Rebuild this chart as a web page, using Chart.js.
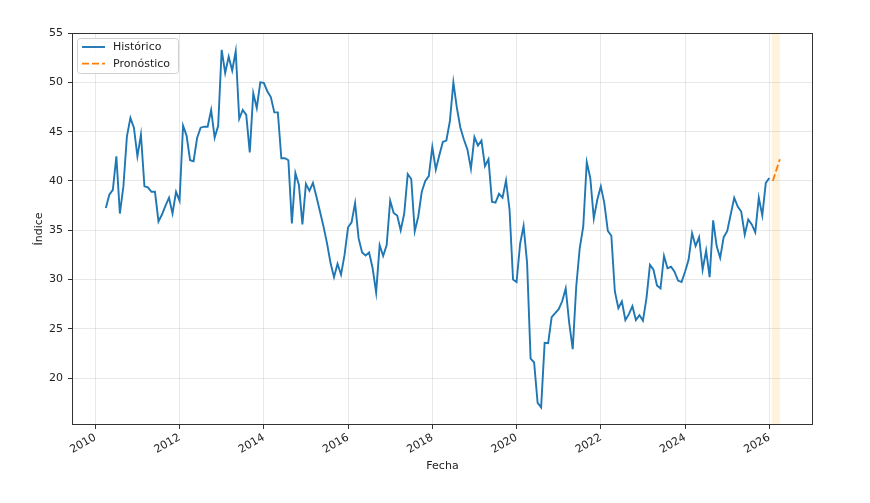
<!DOCTYPE html>
<html>
<head>
<meta charset="utf-8">
<script src="https://cdn.jsdelivr.net/npm/chart.js@4.4.0/dist/chart.umd.min.js"></script>
<style>
  body { margin: 0; background: #ffffff; }
  #wrap { width: 870px; height: 503px; }
</style>
</head>
<body>
<div id="wrap"><canvas id="indice-chart" width="870" height="503"></canvas></div>
<script>
// serie mensual, empieza en abril de 2010
const inicioAnio = 2010;
const inicioMes = 4;
const historico = [
    37.25, 38.6, 39.1, 42.5, 36.7, 39.45, 44.5, 46.4, 45.4,                 // 2010
    42.5, 44.7, 39.45, 39.35, 38.9, 38.9, 35.9, 36.6, 37.5, 38.3, 36.7, 38.9, // 2011
    38.0, 45.6, 44.6, 42.1, 42.0, 44.35, 45.4, 45.5, 45.5, 47.2, 44.4, 45.6, // 2012
    53.3, 50.95, 52.6, 51.2, 53.15, 46.3, 47.2, 46.7, 42.9, 48.9, 47.4, 50.0, // 2013
    49.95, 49.1, 48.5, 46.95, 46.95, 42.3, 42.3, 42.1, 35.7, 40.8, 39.6, 35.6, // 2014
    39.7, 39.0, 39.8, 38.4, 36.9, 35.4, 33.7, 31.7, 30.25, 31.6, 30.5, 32.5, // 2015
    35.3, 35.8, 37.75, 34.2, 32.75, 32.45, 32.75, 31.15, 28.7, 33.5, 32.4, 33.5, // 2016
    38.0, 36.75, 36.5, 35.0, 36.7, 40.7, 40.2, 34.9, 36.4, 38.9, 40.0, 40.5, // 2017
    43.45, 41.15, 42.6, 43.95, 44.1, 46.05, 50.0, 47.4, 45.4, 44.2, 43.2, 41.25, // 2018
    44.45, 43.6, 44.1, 41.5, 42.2, 37.9, 37.8, 38.7, 38.3, 40.05, 37.1, 30.0, // 2019
    29.75, 33.6, 35.45, 31.7, 22.0, 21.6, 17.5, 17.05, 23.6, 23.55, 26.2, 26.6, // 2020
    27.0, 27.8, 29.1, 25.6, 22.95, 29.3, 33.2, 35.4, 41.9, 40.3, 36.2, 38.1, // 2021
    39.45, 37.75, 34.95, 34.45, 28.8, 27.1, 27.8, 25.9, 26.5, 27.3, 25.9, 26.4, // 2022
    25.85, 28.1, 31.5, 31.0, 29.4, 29.1, 32.4, 31.15, 31.3, 30.8, 29.9, 29.75, // 2023
    30.8, 32.0, 34.7, 33.4, 34.3, 31.0, 32.95, 30.25, 36.0, 33.4, 32.2, 34.3, // 2024
    34.9, 36.6, 38.3, 37.4, 36.9, 34.55, 36.1, 35.6, 34.8, 38.3, 36.5, 39.8, // 2025
    40.3                                                                     // 2026
];
const pronostico = [40.0, 41.1, 42.2]; // feb - abr 2026

const ticksX = [2010, 2012, 2014, 2016, 2018, 2020, 2022, 2024, 2026];
const ticksY = [20, 25, 30, 35, 40, 45, 50, 55];

const fechaDe = (i) => inicioAnio + (inicioMes - 1 + i) / 12;
const fechasHist = historico.map((_, i) => fechaDe(i));
const fechasPron = pronostico.map((_, i) => fechaDe(historico.length + i));

Chart.defaults.font.family = "'DejaVu Sans', sans-serif";
Chart.defaults.font.size = 11;
Chart.defaults.color = '#222';

const extras = {
    id: 'extras',
    beforeDatasetsDraw(chart) {
        const {ctx, chartArea, scales} = chart;
        const x1 = scales.x.getPixelForValue(fechasPron[0]);
        const x2 = scales.x.getPixelForValue(fechasPron[fechasPron.length - 1]);
        ctx.save();
        ctx.fillStyle = 'rgba(255, 165, 0, 0.13)';
        ctx.fillRect(x1 - 1, chartArea.top, x2 - x1 + 1, chartArea.bottom - chartArea.top);
        ctx.restore();
    },
    afterDatasetsDraw(chart) {
        const {ctx, chartArea} = chart;
        ctx.save();
        // marco completo
        ctx.strokeStyle = '#333';
        ctx.lineWidth = 1;
        ctx.strokeRect(chartArea.left + 0.5, chartArea.top + 0.5,
            chartArea.right - chartArea.left - 1, chartArea.bottom - chartArea.top - 1);

        // leyenda
        const sets = chart.data.datasets;
        ctx.font = "11px 'DejaVu Sans'";
        let maxW = 0;
        sets.forEach(d => { maxW = Math.max(maxW, ctx.measureText(d.label).width); });
        const x0 = chartArea.left + 5, y0 = chartArea.top + 5;
        const w = 36 + maxW + 8, h = 35;
        ctx.beginPath();
        ctx.roundRect(x0 + 0.5, y0 + 0.5, w, h, 3);
        ctx.fillStyle = 'rgba(255,255,255,0.85)';
        ctx.fill();
        ctx.strokeStyle = '#d0d0d0';
        ctx.stroke();
        sets.forEach((d, i) => {
            const yy = y0 + 9 + i * 16.6;
            ctx.beginPath();
            ctx.setLineDash(d.borderDash || []);
            ctx.strokeStyle = d.borderColor;
            ctx.lineWidth = d.borderWidth;
            ctx.moveTo(x0 + 5, yy);
            ctx.lineTo(x0 + 28, yy);
            ctx.stroke();
            ctx.setLineDash([]);
            ctx.fillStyle = '#222';
            ctx.textBaseline = 'middle';
            ctx.fillText(d.label, x0 + 36, yy + 0.5);
        });
        ctx.restore();
    }
};

new Chart(document.getElementById('indice-chart').getContext('2d'), {
    type: 'line',
    data: {
        datasets: [
            {
                label: 'Histórico',
                data: historico.map((v, i) => ({x: fechasHist[i], y: v})),
                borderColor: '#1f77b4',
                borderWidth: 1.9,
                pointRadius: 0,
                tension: 0,
                fill: false
            },
            {
                label: 'Pronóstico',
                data: pronostico.map((v, i) => ({x: fechasPron[i], y: v})),
                borderColor: '#ff7f0e',
                borderWidth: 1.9,
                borderDash: [7, 3],
                pointRadius: 0,
                tension: 0,
                fill: false
            }
        ]
    },
    options: {
        responsive: false,
        animation: false,
        layout: {
            padding: {left: 29, right: 57, top: 33, bottom: 26}
        },
        plugins: {
            legend: {display: false},
            title: {display: false},
            tooltip: {enabled: false}
        },
        scales: {
            x: {
                type: 'linear',
                min: 2009.447,
                max: 2027.037,
                afterBuildTicks: (scale) => { scale.ticks = ticksX.map(v => ({value: v})); },
                afterFit: (scale) => { scale.height = 52; },
                ticks: {
                    minRotation: 30,
                    maxRotation: 30,
                    padding: 2,
                    color: '#222',
                    callback: (v) => String(v)
                },
                grid: {
                    color: 'rgba(0,0,0,0.09)',
                    tickColor: '#333',
                    tickLength: 4
                },
                border: {display: false},
                title: {display: true, text: 'Fecha', color: '#222', padding: {top: 4, bottom: 4}}
            },
            y: {
                min: 15.26,
                max: 55,
                afterBuildTicks: (scale) => { scale.ticks = ticksY.map(v => ({value: v})); },
                afterFit: (scale) => { scale.width = 43; },
                ticks: {
                    padding: 5,
                    color: '#222'
                },
                grid: {
                    color: 'rgba(0,0,0,0.09)',
                    tickColor: '#333',
                    tickLength: 4
                },
                border: {display: false},
                title: {display: true, text: 'Índice', color: '#222', padding: {top: 4, bottom: 4}}
            }
        }
    },
    plugins: [extras]
});
</script>
</body>
</html>
